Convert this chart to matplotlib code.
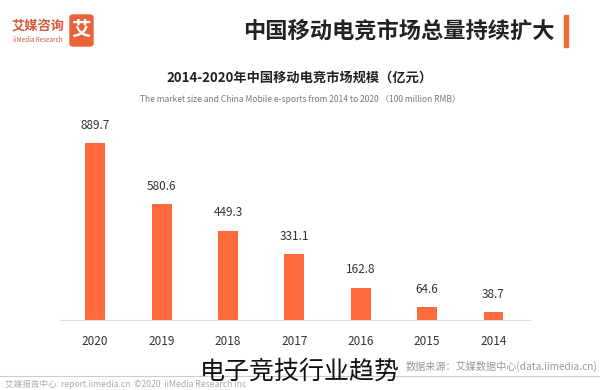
import matplotlib
matplotlib.use("Agg")
import matplotlib.pyplot as plt
from matplotlib.patches import FancyBboxPatch, Rectangle
from matplotlib.lines import Line2D

plt.rcParams['font.family'] = ['Noto Sans CJK SC', 'DejaVu Sans']

# data
years = ['2014', '2015', '2016', '2017', '2018', '2019', '2020']
market = [38.7, 64.6, 162.8, 331.1, 449.3, 580.6, 889.7]

bar_color = '#FF6A3D'

fig = plt.figure(figsize=(6, 3.9), dpi=100)
W, H = 600, 390

def fx(px):
    return px / W

def fy(py):
    return 1 - py / H

# header
fig.text(fx(555), fy(31), '中国移动电竞市场总量持续扩大', ha='right', va='center',
         fontsize=16, fontweight='bold', color='#222222')
fig.add_artist(Rectangle((fx(564), fy(47)), fx(4), 32 / H, color='#F26B3A',
                         transform=fig.transFigure))

# logo
fig.add_artist(FancyBboxPatch((fx(70), fy(46)), fx(23), 31 / H,
                              boxstyle='round,pad=0,rounding_size=0.006',
                              color='#E8623A', transform=fig.transFigure))
fig.text(fx(81.5), fy(30.5), '艾', ha='center', va='center', fontsize=14,
         fontweight='bold', color='white')
fig.text(fx(38), fy(26), '艾媒咨询', ha='center', va='center', fontsize=9.5,
         fontweight='bold', color='#D9583A')
fig.text(fx(38), fy(40), 'iiMedia Research', ha='center', va='center',
         fontsize=4.5, color='#D9583A')

# chart titles
fig.text(0.5, fy(78), '2014-2020年中国移动电竞市场规模（亿元）', ha='center',
         va='center', fontsize=9.5, fontweight='bold', color='#222222')
fig.text(0.5, fy(99), 'The market size and China Mobile e-sports from 2014 to 2020 （100 million RMB）',
         ha='center', va='center', fontsize=6.1, color='#777777')

# bars
ax = fig.add_axes([fx(60), fy(320), fx(470), 210 / H])
x = list(range(len(years)))
bars = ax.bar(x, market, width=0.3, color=bar_color, zorder=2)
ax.set_xlim(6.53, -0.55)
ax.set_ylim(0, 1055)
for xi, v in zip(x, market):
    ax.annotate(f'{v:.1f}', (xi, v), xytext=(0, 8), textcoords='offset points',
                ha='center', va='bottom', fontsize=8.5, color='#333333')
ax.set_xticks(x)
ax.set_xticklabels(years, fontsize=8.5, color='#333333')
ax.tick_params(axis='x', length=0, pad=11)
ax.set_yticks([])
for s in ['top', 'left', 'right']:
    ax.spines[s].set_visible(False)
ax.spines['bottom'].set_color('#DDDDDD')
ax.spines['bottom'].set_linewidth(0.8)

# footer
fig.text(fx(597), fy(366), '数据来源：艾媒数据中心(data.iimedia.cn)', ha='right',
         va='center', fontsize=7.3, color='#999999')
fig.add_artist(Line2D([0, 1], [fy(376), fy(376)], color='#CCCCCC', lw=0.8,
                      transform=fig.transFigure))
fig.text(fx(5), fy(384), '艾媒报告中心: report.iimedia.cn  ©2020  iiMedia Research Inc',
         ha='left', va='center', fontsize=6.2, color='#AAAAAA')

# caption
fig.text(0.5, fy(372), '电子竞技行业趋势', ha='center', va='center',
         fontsize=18, color='#111111', fontweight='light')

fig.savefig('out.png', dpi=100)
